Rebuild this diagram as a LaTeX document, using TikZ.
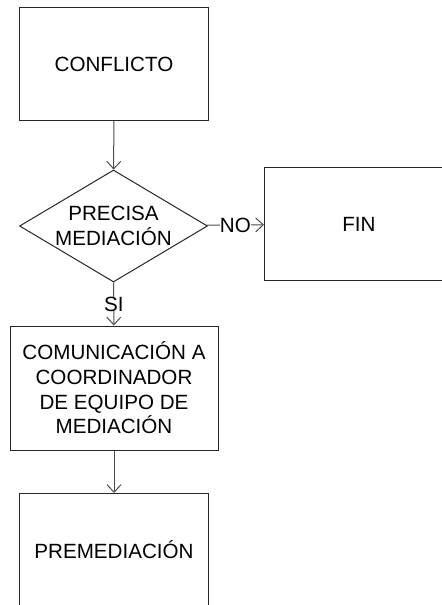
\documentclass[tikz,border=0pt]{standalone}
\usepackage{fontspec}
\setmainfont{Liberation Sans}
\usetikzlibrary{shapes.geometric,arrows.meta}

\begin{document}
\begin{tikzpicture}[x=0.5pt, y=-0.5pt,
        font=\fontsize{10.3}{12.35}\selectfont,
        stepbox/.style={rectangle, draw=black!85, line width=0.5pt, align=center, minimum width=94.5pt, minimum height=56.5pt, inner sep=1pt},
        askbox/.style={diamond, draw=black!85, line width=0.5pt, align=center, minimum width=94pt, minimum height=56pt, inner sep=0pt, aspect=1.68},
        link/.style={draw=black!70, line width=0.5pt, -{Straight Barb[length=3.8pt, width=7pt]}},
        tag/.style={fill=white, inner sep=0pt}]
        \path[use as bounding box, clip] (0,0) rectangle (442,605);
        \node[stepbox] (conflicto) at (114,64) {CONFLICTO};
        \node[askbox] (precisa) at (113.5,226) {PRECISA\\MEDIACIÓN};
        \node[stepbox] (fin) at (359,224) {FIN};
        \node[stepbox, minimum width=104pt, minimum height=62pt] (comunicacion) at (114,388) {COMUNICACIÓN A\\COORDINADOR\\DE EQUIPO DE\\MEDIACIÓN};
        \node[stepbox] (premediacion) at (114,550) {PREMEDIACIÓN};
        \draw[link] (conflicto) -- (precisa);
        \draw[link] (precisa) -- node[tag] {NO} (fin);
        \draw[link] (precisa) -- node[tag] {SI} (comunicacion);
        \draw[link] (comunicacion) -- (premediacion);
    \end{tikzpicture}
\end{document}
